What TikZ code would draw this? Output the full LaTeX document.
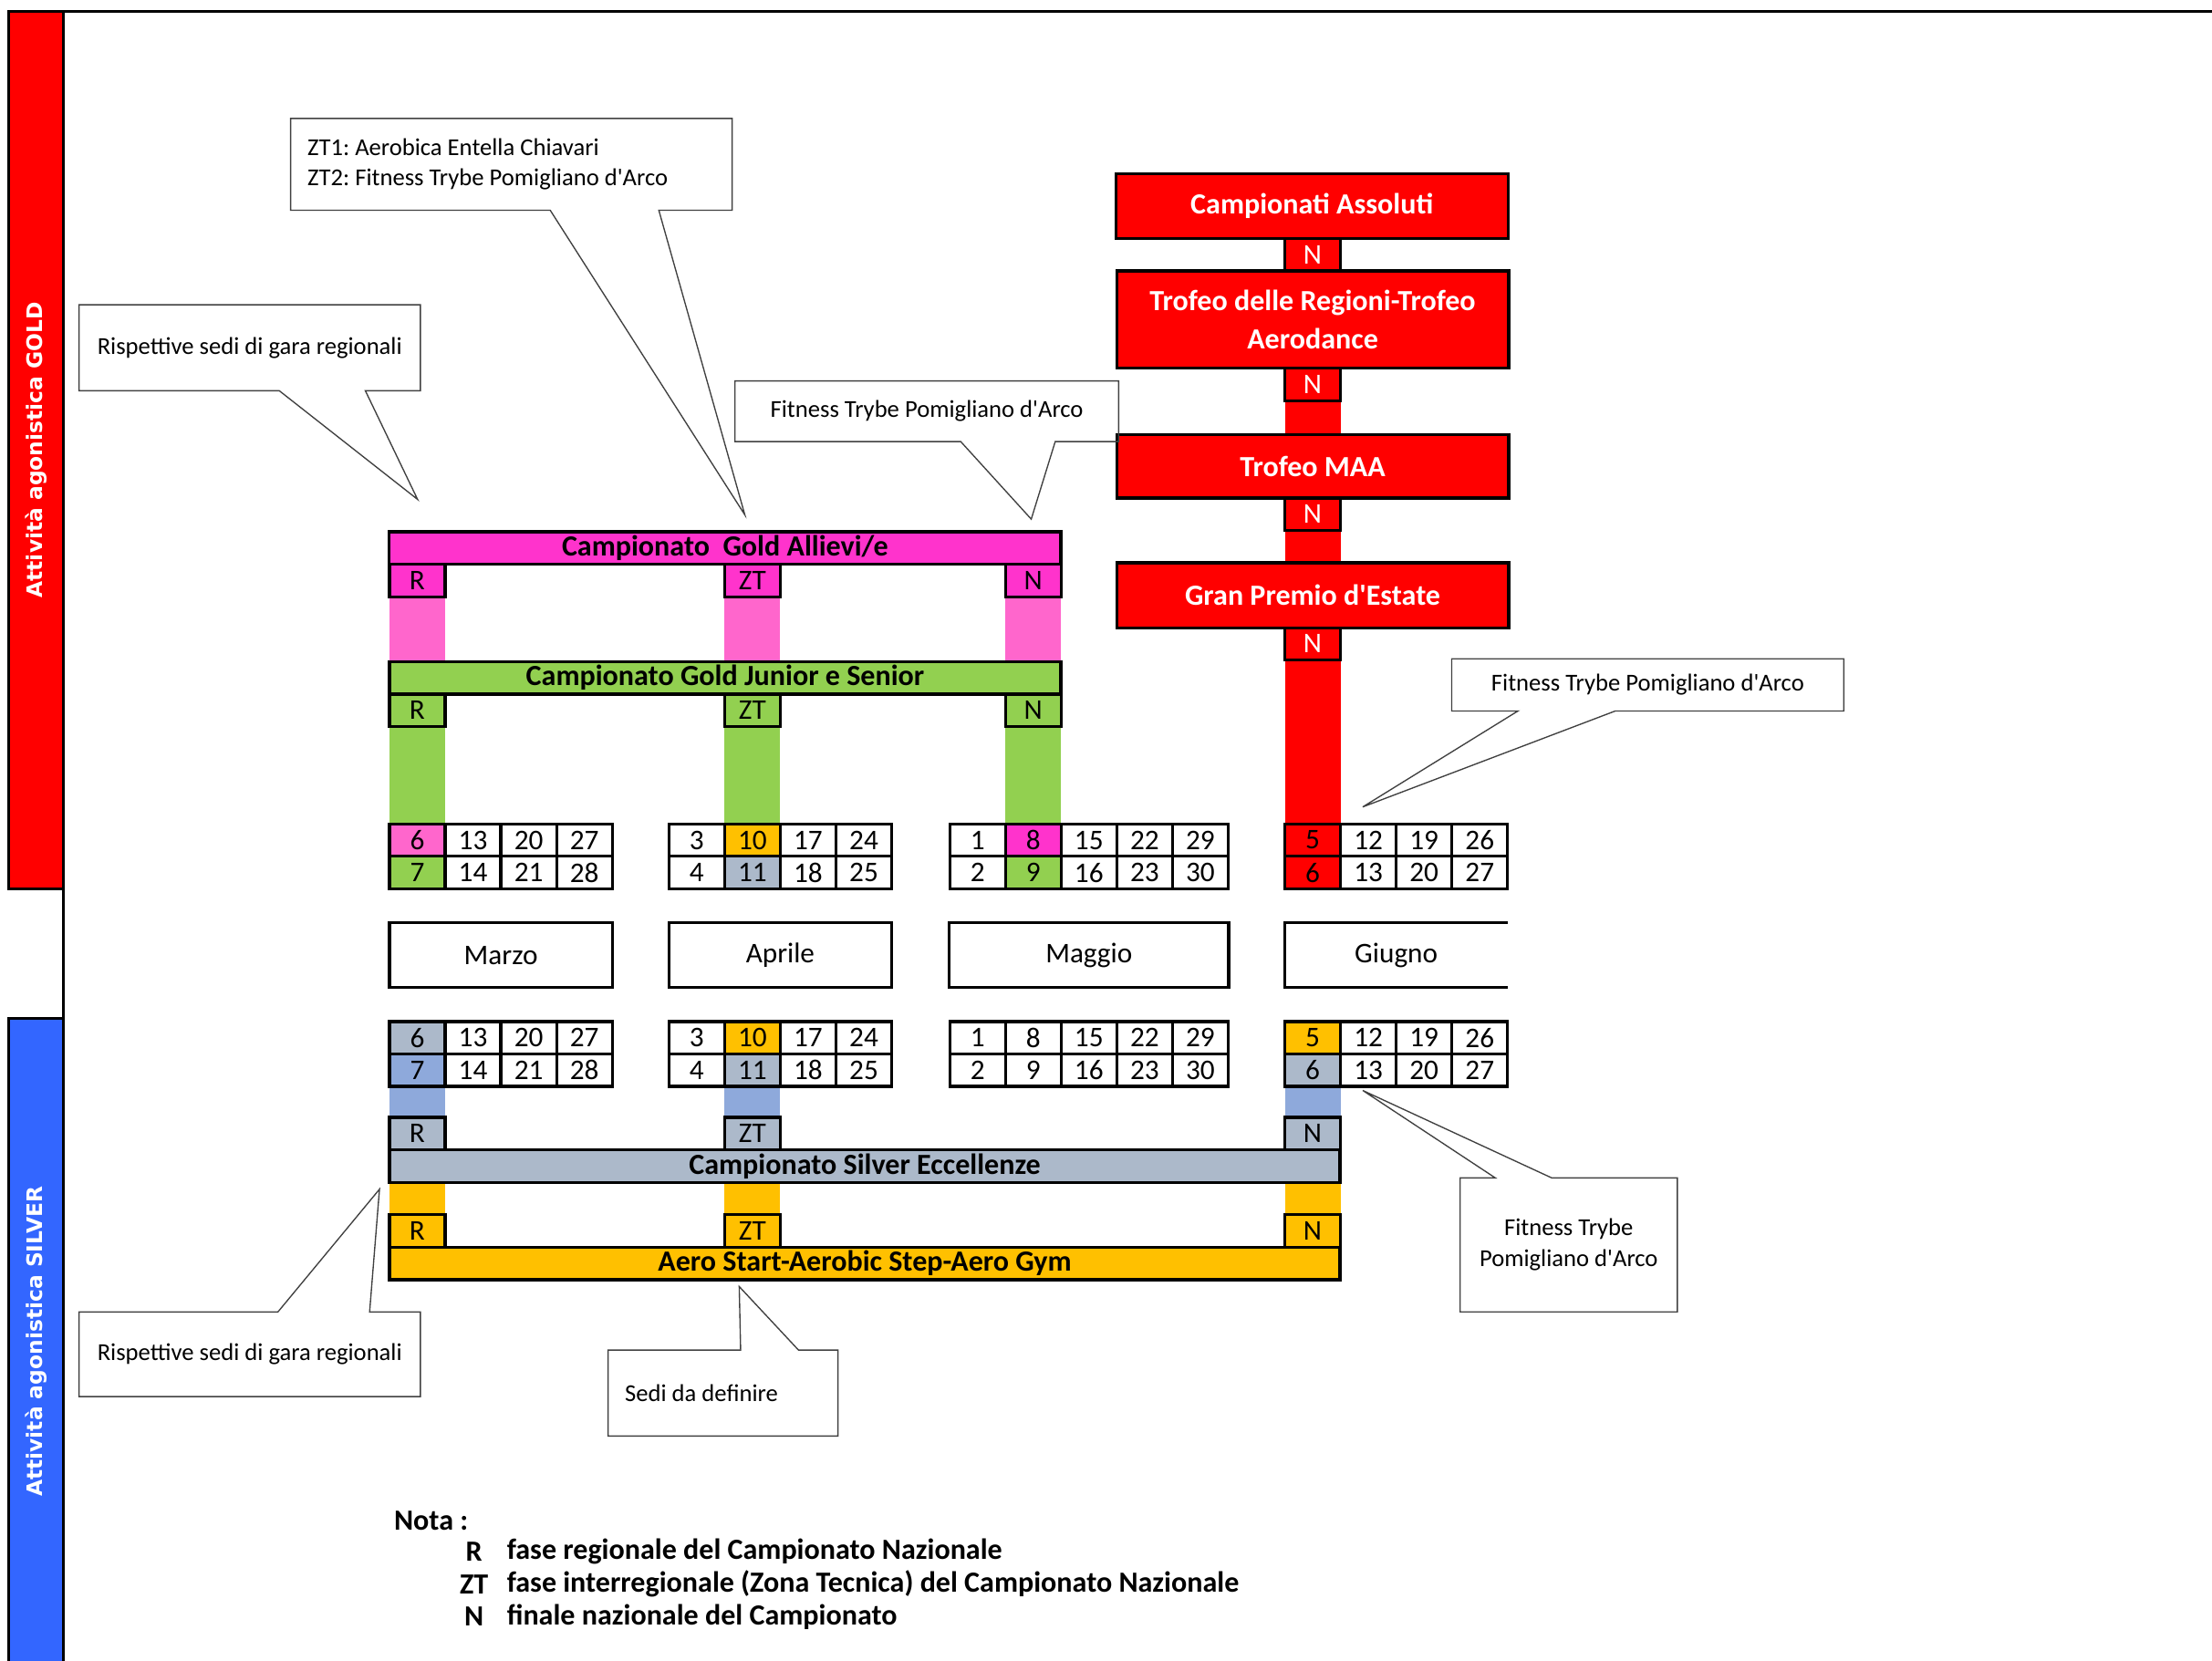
\documentclass[tikz,border=0pt]{standalone}
\usepackage{fontspec}
\setmainfont{Carlito}[Ligatures=TeXOff]
\newfontfamily\sidefont{DejaVu Sans}
\usepackage{tikz}
\usetikzlibrary{matrix,positioning,backgrounds}
\usepackage{xcolor}
\frenchspacing

\definecolor{goldred}{HTML}{FF0000}
\definecolor{silverside}{HTML}{3366FF}
\definecolor{allmag}{HTML}{FF33CC}
\definecolor{allpink}{HTML}{FF66CC}
\definecolor{jsgreen}{HTML}{92D050}
\definecolor{aeroyel}{HTML}{FFC000}
\definecolor{silgrey}{HTML}{ACB9CA}
\definecolor{silblue}{HTML}{8EA9DB}

\newcommand\numfont{\fontsize{11.5}{13}\selectfont}
\newcommand\ttlfont{\fontsize{11.8}{15.4}\selectfont\bfseries}
\newcommand\callfont{\fontsize{9.8}{12}\selectfont}
\newcommand\sidefnt{\sidefont\bfseries\fontsize{8.6}{10}\selectfont}

\begin{document}
\begin{tikzpicture}[x=0.02cm, y=-0.02cm,
  box/.style={draw, line width=1.2pt, inner sep=0pt, outer sep=0pt},
  bar/.style={box, minimum height=0.46cm, font=\ttlfont},
  tab/.style={box, minimum width=0.79cm, minimum height=0.46cm, font=\numfont},
  cal/.style={matrix of nodes, inner sep=0pt, outer sep=0pt, column sep=-1.2pt, row sep=-1.2pt,
              anchor=north west, nodes={tab, fill=white, anchor=center}},
  redbox/.style={box, fill=goldred, text=white, font=\ttlfont, minimum width=5.56cm, align=center},
  month/.style={box, minimum width=3.16cm, minimum height=0.92cm, font=\numfont},
  strip/.style={line width=0.79cm},
  callout/.style={draw=black!75, line width=0.5pt},
  calltxt/.style={inner sep=0pt, outer sep=0pt, font=\callfont, align=center},
  sidebar/.style={box, rotate=90, minimum height=0.78cm, text=white, font=\sidefnt},
  notetxt/.style={font=\ttlfont, inner sep=0pt}]
\useasboundingbox (0,0) rectangle (1568,1177);

% Side bars and frame
\node[sidebar, fill=goldred, minimum width=12.44cm] (goldside) at (25.5,319) {Attività agonistica GOLD};
\node[sidebar, fill=silverside, minimum width=9.16cm] (silverside) at (25.5,951) {Attività agonistica SILVER};
\draw[line width=1.2pt] (6,8) -- (1600,8);
\draw[line width=1.2pt] (45,8) -- (45,722);

% Calendars (upper row)
\matrix (marA) [cal] at (275,583) {
  |[fill=allpink]| 6 & 13 & 20 & 27 \\
  |[fill=jsgreen]| 7 & 14 & 21 & 28 \\
};
\matrix (aprA) [cal, right=0.76cm of marA] {
  3 & |[fill=aeroyel]| 10 & 17 & 24 \\
  4 & |[fill=silgrey]| 11 & 18 & 25 \\
};
\matrix (mayA) [cal, right=0.78cm of aprA] {
  1 & |[fill=allmag]| 8 & 15 & 22 & 29 \\
  2 & |[fill=jsgreen]| 9 & 16 & 23 & 30 \\
};
\matrix (junA) [cal, right=0.76cm of mayA] {
  |[fill=goldred]| 5 & 12 & 19 & 26 \\
  |[fill=goldred]| 6 & 13 & 20 & 27 \\
};

% Months
\node[month, below=0.46cm of marA] (mar) {Marzo};
\node[month, below=0.46cm of aprA] (apr) {Aprile};
\node[month, minimum width=3.96cm, below=0.46cm of mayA] (may) {Maggio};
\node[month, draw=none, below=0.46cm of junA] (jun) {Giugno};
\draw[line width=1.2pt] (jun.north east) -- (jun.north west) -- (jun.south west) -- (jun.south east);

% Calendars (lower row)
\matrix (marB) [cal, below=0.46cm of mar] {
  |[fill=silgrey]| 6 & 13 & 20 & 27 \\
  |[fill=silblue]| 7 & 14 & 21 & 28 \\
};
\matrix (aprB) [cal, below=0.46cm of apr] {
  3 & |[fill=aeroyel]| 10 & 17 & 24 \\
  4 & |[fill=silgrey]| 11 & 18 & 25 \\
};
\matrix (mayB) [cal, below=0.46cm of may] {
  1 & 8 & 15 & 22 & 29 \\
  2 & 9 & 16 & 23 & 30 \\
};
\matrix (junB) [cal, below=0.46cm of jun] {
  |[fill=aeroyel]| 5 & 12 & 19 & 26 \\
  |[fill=silgrey]| 6 & 13 & 20 & 27 \\
};

% Gold: Allievi/e
\node[bar, fill=allmag, minimum width=9.52cm, anchor=north west] (all) at (276,377) {Campionato\ \ Gold Allievi/e};
\node[tab, fill=allmag, anchor=north] (allR) at (all.south -| marA-1-1) {R};
\node[tab, fill=allmag, anchor=north] (allZ) at (all.south -| aprA-1-2) {ZT};
\node[tab, fill=allmag, anchor=north] (allN) at (all.south -| mayA-1-2) {N};

% Gold: Junior e Senior
\node[bar, fill=jsgreen, minimum width=9.52cm, anchor=north west] (js) at ([yshift=-0.92cm]allR.south west) {Campionato Gold Junior e Senior};
\node[tab, fill=jsgreen, anchor=north] (jsR) at (js.south -| marA-1-1) {R};
\node[tab, fill=jsgreen, anchor=north] (jsZ) at (js.south -| aprA-1-2) {ZT};
\node[tab, fill=jsgreen, anchor=north] (jsN) at (js.south -| mayA-1-2) {N};

% Gold: national events
\node[redbox, minimum height=0.92cm, anchor=north west] (assol) at (791,123) {Campionati Assoluti};
\node[tab, fill=goldred, text=white, anchor=north] (assolN) at (assol.south -| junA-1-1) {N};
\node[redbox, minimum height=1.38cm, below=0pt of assolN] (regioni) {Trofeo delle Regioni-Trofeo\\Aerodance};
\node[tab, fill=goldred, text=white, below=0pt of regioni] (regN) {N};
\node[redbox, minimum height=0.9cm, below=0.48cm of regN] (maa) {Trofeo MAA};
\node[tab, fill=goldred, text=white, below=0pt of maa] (maaN) {N};
\node[redbox, minimum height=0.92cm, below=0.46cm of maaN] (gp) {Gran Premio d'Estate};
\node[tab, fill=goldred, text=white, below=0pt of gp] (gpN) {N};

% Silver: Eccellenze
\node[tab, fill=silgrey, below=0.44cm of marB-2-1] (silR) {R};
\node[tab, fill=silgrey, below=0.44cm of aprB-2-2] (silZ) {ZT};
\node[tab, fill=silgrey, below=0.44cm of junB-2-1] (silN) {N};
\node[bar, fill=silgrey, minimum width=13.48cm, anchor=north west] (sil) at (silR.south west) {Campionato Silver Eccellenze};

% Silver: Aero Start
\coordinate (aerotop) at ([yshift=-0.46cm]sil.south);
\node[tab, fill=aeroyel, anchor=north] (aeroR) at (aerotop -| silR) {R};
\node[tab, fill=aeroyel, anchor=north] (aeroZ) at (aerotop -| silZ) {ZT};
\node[tab, fill=aeroyel, anchor=north] (aeroN) at (aerotop -| silN) {N};
\node[bar, fill=aeroyel, minimum width=13.48cm, anchor=north west] (aero) at (aeroR.south west) {Aero Start-Aerobic Step-Aero Gym};

% Strips
\begin{scope}[on background layer]
\draw[strip, allpink] (allR.south) -- (jsR.north);
\draw[strip, allpink] (allZ.south) -- (jsZ.north);
\draw[strip, allpink] (allN.south) -- (jsN.north);
\draw[strip, jsgreen] (jsR.south) -- (marA-1-1.north);
\draw[strip, jsgreen] (jsZ.south) -- (aprA-1-2.north);
\draw[strip, jsgreen] (jsN.south) -- (mayA-1-2.north);
\draw[strip, goldred] (regN.south) -- (maa.north -| regN);
\draw[strip, goldred] (maaN.south) -- (gp.north -| maaN);
\draw[strip, goldred] (gpN.south) -- (junA-1-1.north);
\draw[strip, silblue] (marB-2-1.south) -- (silR.north);
\draw[strip, silblue] (aprB-2-2.south) -- (silZ.north);
\draw[strip, silblue] (junB-2-1.south) -- (silN.north);
\draw[strip, aeroyel] (aeroR.north) -- (aeroR.north |- sil.south);
\draw[strip, aeroyel] (aeroZ.north) -- (aeroZ.north |- sil.south);
\draw[strip, aeroyel] (aeroN.north) -- (aeroN.north |- sil.south);
\end{scope}

% Callouts
\node[calltxt, minimum width=6.26cm, minimum height=1.3cm, text width=5.78cm, align=flush left] (ztnote) at (362.5,116.5)
  {ZT1: Aerobica Entella Chiavari\\ZT2: Fitness Trybe Pomigliano d'Arco};
\coordinate (zttip) at (528,365);
\draw[callout] (ztnote.south west) -- (ztnote.north west) -- (ztnote.north east) -- (ztnote.south east)
  -- (467,149) -- (zttip) -- (390,149) -- cycle;

\node[calltxt, minimum width=4.84cm, minimum height=1.22cm] (goldreg) at (177,246.5) {Rispettive sedi di gara regionali};
\coordinate (goldregtip) at (296,354);
\draw[callout] (goldreg.south west) -- (goldreg.north west) -- (goldreg.north east) -- (goldreg.south east)
  -- (259,277) -- (goldregtip) -- (198,277) -- cycle;

\node[calltxt, minimum width=5.44cm, minimum height=0.86cm] (fitall) at (657,291.5) {Fitness Trybe Pomigliano d'Arco};
\coordinate (fitalltip) at (731,368);
\draw[callout] (fitall.south west) -- (fitall.north west) -- (fitall.north east) -- (fitall.south east)
  -- (748,313) -- (fitalltip) -- (681,313) -- cycle;

\node[calltxt, minimum width=5.56cm, minimum height=0.74cm] (fitgp) at (1168,485.5) {Fitness Trybe Pomigliano d'Arco};
\coordinate (fitgptip) at (966,572);
\draw[callout] (fitgp.south east) -- (fitgp.north east) -- (fitgp.north west) -- (fitgp.south west)
  -- (1076,504) -- (fitgptip) -- (1145,504) -- cycle;

\node[calltxt, minimum width=3.08cm, minimum height=1.9cm, font=\fontsize{9.8}{12.5}\selectfont] (fitsil) at (1112,882.5) {Fitness Trybe\\Pomigliano d'Arco};
\coordinate (fitsiltip) at (966,773);
\draw[callout] (fitsil.north west) -- (1060,835) -- (fitsiltip) -- (1100,835) -- (fitsil.north east)
  -- (fitsil.south east) -- (fitsil.south west) -- cycle;

\node[calltxt, minimum width=4.84cm, minimum height=1.2cm] (silreg) at (177,960) {Rispettive sedi di gara regionali};
\coordinate (silregtip) at (269,843);
\draw[callout] (silreg.north west) -- (197,930) -- (silregtip) -- (262,930) -- (silreg.north east)
  -- (silreg.south east) -- (silreg.south west) -- cycle;

\node[calltxt, minimum width=3.26cm, minimum height=1.22cm, text width=2.78cm, align=flush left] (sedi) at (512.5,987.5) {Sedi da definire};
\coordinate (seditip) at (524,912);
\draw[callout] (sedi.north west) -- (525,957) -- (seditip) -- (566,957) -- (sedi.north east)
  -- (sedi.south east) -- (sedi.south west) -- cycle;

% Note
\node[notetxt, anchor=west] (nota) at (279,1078) {Nota :};
\node[notetxt] (keyR) at (336,1100) {R};
\node[notetxt] (keyZ) at (336,1123) {ZT};
\node[notetxt] (keyN) at (336,1146) {N};
\node[notetxt, anchor=west] (descR) at (359,1100) {fase regionale del Campionato Nazionale};
\node[notetxt, anchor=west] (descZ) at (359,1123) {fase interregionale (Zona Tecnica) del Campionato Nazionale};
\node[notetxt, anchor=west] (descN) at (359,1146) {finale nazionale del Campionato};
\end{tikzpicture}
\end{document}
